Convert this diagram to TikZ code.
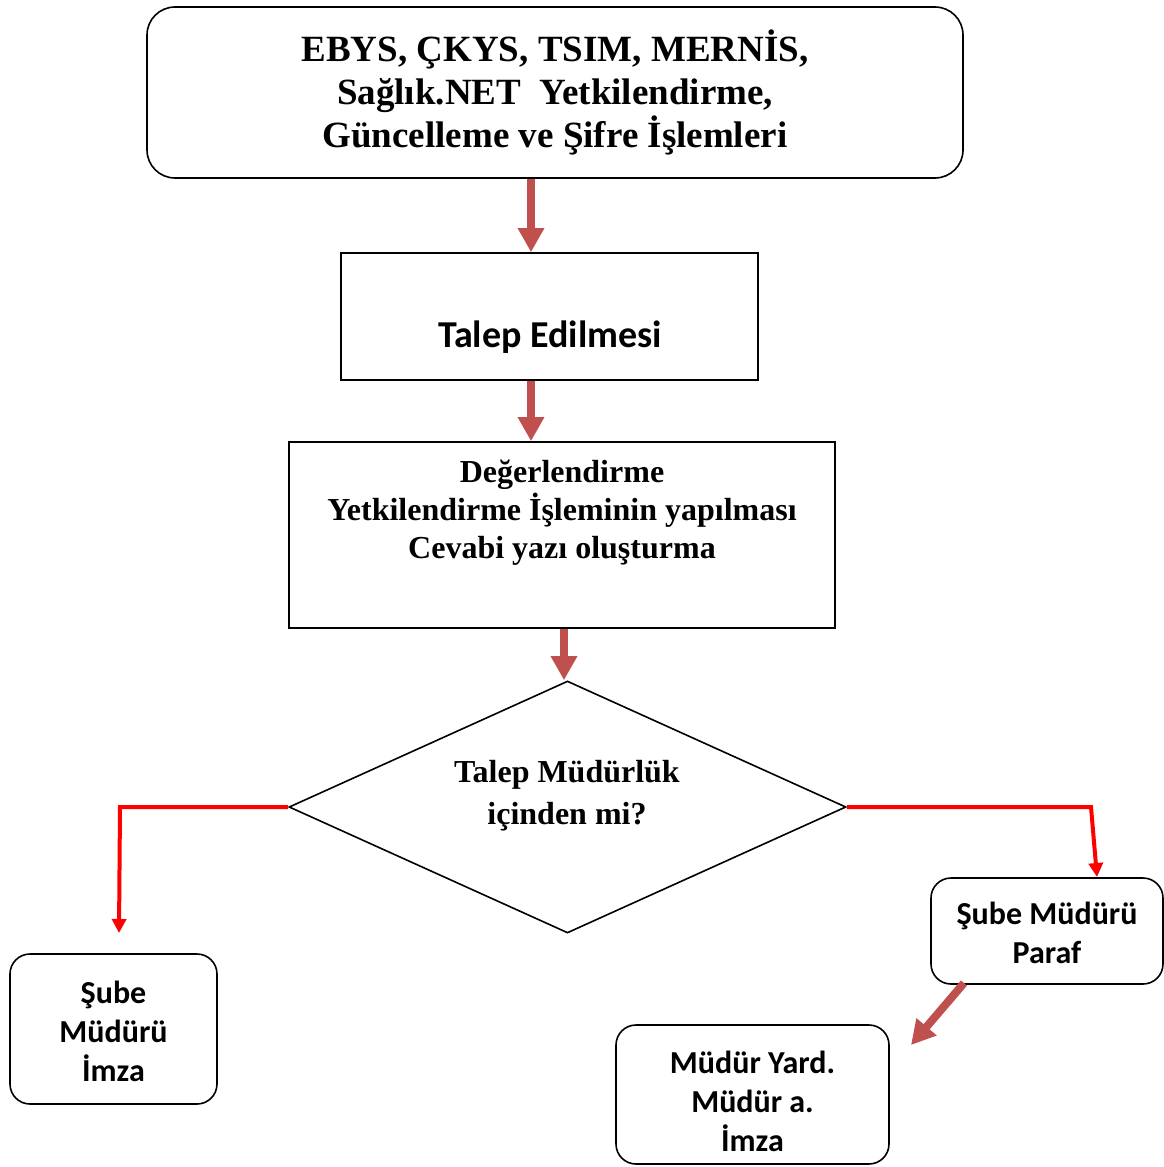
\documentclass[tikz,border=0pt]{standalone}
\usepackage{fontspec}
\setmainfont{Liberation Serif}
\newfontfamily\calibri{Carlito}
\usetikzlibrary{arrows.meta,shapes.geometric}
\definecolor{darkred}{HTML}{C0504D}
\tikzset{
  rbox/.style={draw, line width=1.6pt, rounded corners=28pt, align=center, inner sep=0pt},
  sbox/.style={draw, line width=1.6pt, align=center, inner sep=0pt},
  serifbig/.style={font=\fontsize{37}{43}\selectfont\bfseries},
  serifmid/.style={font=\fontsize{32}{38}\selectfont\bfseries},
  serifdia/.style={font=\fontsize{32}{42}\selectfont\bfseries},
  sansbig/.style={font=\calibri\fontsize{38}{39}\selectfont\bfseries},
  sansmid/.style={font=\calibri\fontsize{32}{39}\selectfont\bfseries},
  fatarrow/.style={draw=darkred, line width=8pt, -{Triangle[width=25pt,length=24pt]}, color=darkred},
  redline/.style={draw=red, line width=4pt, -{Triangle[width=14pt,length=14pt]}, color=red},
}
\begin{document}
\begin{tikzpicture}[x=1pt,y=-1pt]
\useasboundingbox (0,0) rectangle (1164,1167);
\node[rbox, minimum width=816pt, minimum height=171pt, serifbig] (top) at (555,92.5)
  {EBYS, ÇKYS, TSIM, MERNİS,\\Sağlık.NET\ \ Yetkilendirme,\\Güncelleme ve Şifre İşlemleri};
\node[sbox, minimum width=417pt, minimum height=127pt] (talep) at (549.5,316.5) {};
\node[sansbig] (talept) at (550,337) {Talep Edilmesi};
\node[sbox, minimum width=546pt, minimum height=186pt] (deger) at (562,535) {};
\node[serifmid, align=center] (degert) at (562,513) {Değerlendirme\\Yetkilendirme İşleminin yapılması\\Cevabi yazı oluşturma};
\node[draw, line width=1.6pt, diamond, shape aspect=2.21, minimum width=557pt, minimum height=252pt, inner sep=0pt] (dia) at (567.5,807) {};
\node[serifdia, align=center] (diat) at (567,796) {Talep Müdürlük\\içinden mi?};
\node[rbox, minimum width=232pt, minimum height=106pt, rounded corners=20pt] (paraf) at (1047,931) {};
\node[sansmid, align=center] (paraft) at (1047,933) {Şube Müdürü\\Paraf};
\node[rbox, minimum width=207pt, minimum height=150pt, rounded corners=20pt] (imza) at (113.5,1029) {};
\node[sansmid, align=center] (imzat) at (113.5,1031) {Şube\\Müdürü\\İmza};
\node[rbox, minimum width=273pt, minimum height=139pt, rounded corners=20pt] (yard) at (752.5,1094.5) {};
\node[sansmid, align=center] (yardt) at (752.5,1101) {Müdür Yard.\\Müdür a.\\İmza};
\draw[fatarrow] (top.south -| 531,0) -- (talep.north -| 531,0);
\draw[fatarrow] (talep.south -| 531,0) -- (deger.north -| 531,0);
\draw[fatarrow] (deger.south -| 564,0) -- (dia.north -| 564,0);
\coordinate (lend) at (119,933);
\coordinate (rend) at (1097,877);
\coordinate (aend) at (911,1045);
\draw[redline] (dia.west) -- (dia.west -| 120,0) -- (lend);
\draw[redline] (dia.east) -- (dia.east -| 1091,0) -- (rend);
\draw[fatarrow] (964,983) -- (aend);
\end{tikzpicture}
\end{document}
